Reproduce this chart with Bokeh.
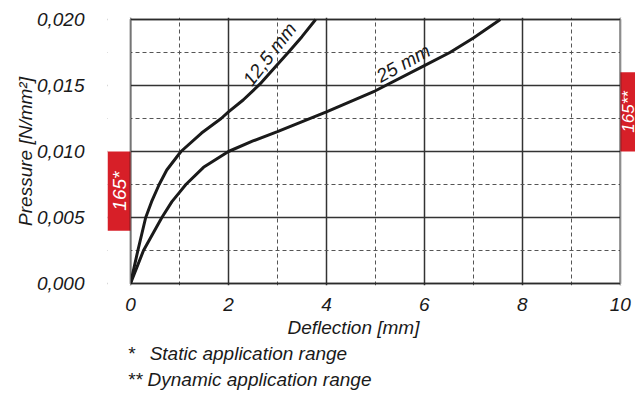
from bokeh.plotting import figure
from bokeh.models import Range1d, FixedTicker, CustomJSTickFormatter, Label, BoxAnnotation, Title
from bokeh.embed import file_html
from bokeh.resources import INLINE

FONT = "Liberation Sans"
RED = "#d71f28"
INK = "#1a1a1a"

# ---- data ----
x_ticks = [0, 2, 4, 6, 8, 10]
x_minor = [1, 3, 5, 7, 9]
y_ticks = [0.000, 0.005, 0.010, 0.015, 0.020]
y_minor = [0.0025, 0.0075, 0.0125, 0.0175]

curve_125_x = [0, 0.15, 0.31, 0.43, 0.585, 0.74, 1.03, 1.45, 1.85, 2.0, 2.3, 2.64, 3.0, 3.22, 3.5, 3.78]
curve_125_y = [0, 0.0025, 0.0050, 0.0062, 0.0075, 0.0086, 0.0100, 0.0114, 0.0125, 0.0130, 0.0139, 0.0151, 0.0166, 0.0175, 0.0187, 0.0200]

curve_25_x = [0, 0.265, 0.64, 0.845, 1.0, 1.13, 1.49, 2.0, 2.5, 3.0, 4.0, 5.0, 6.0, 6.52, 7.0, 7.55]
curve_25_y = [0, 0.0025, 0.0050, 0.0062, 0.0069, 0.0075, 0.0088, 0.0100, 0.0108, 0.0115, 0.0130, 0.0146, 0.0165, 0.0175, 0.0186, 0.0200]

curve_names = ["12,5 mm", "25 mm"]

static_range = (0.004, 0.010)    # 165*
dynamic_range = (0.010, 0.016)   # 165**
range_names = ["165*", "165**"]

x_title = "Deflection [mm]"
y_title = "Pressure [N/mm²]"
footnotes = ["*\u2002\u00a0Static application range", "**\u00a0Dynamic application range"]

# ---- figure ----
X0, X1 = 0, 10
Y0, Y1 = 0.0, 0.020
PAD = 2 / 13200.0
p = figure(width=635, height=394, output_backend="svg", toolbar_location=None,
           x_range=Range1d(-0.47, 10.31), y_range=Range1d(Y0 - PAD, Y1 + PAD),
           min_border_left=107, min_border_right=0, min_border_top=17, min_border_bottom=109)
p.background_fill_color = "white"
p.border_fill_color = "white"
p.outline_line_color = None

xt = FixedTicker(ticks=x_ticks, minor_ticks=x_minor)
yt = FixedTicker(ticks=y_ticks, minor_ticks=y_minor)
p.xaxis.ticker = xt
p.yaxis.ticker = yt
p.xgrid.ticker = xt
p.ygrid.ticker = yt
for g in (p.xgrid, p.ygrid):
    g.grid_line_color = "#333333"
    g.grid_line_width = 1.5
    g.minor_grid_line_color = "#555555"
    g.minor_grid_line_width = 1
    g.minor_grid_line_dash = "4 3"

p.yaxis.formatter = CustomJSTickFormatter(code="return tick.toFixed(3).replace('.', ',');")

for ax in (p.xaxis, p.yaxis):
    ax.axis_line_color = None
    ax.major_tick_line_color = None
    ax.minor_tick_line_color = None
    ax.major_label_text_font = FONT
    ax.major_label_text_font_style = "italic"
    ax.major_label_text_font_size = "19px"
    ax.major_label_text_color = INK
    ax.axis_label_text_font = FONT
    ax.axis_label_text_font_style = "italic"
    ax.axis_label_text_font_size = "19px"
    ax.axis_label_text_color = INK

p.xaxis.major_label_standoff = 6
p.yaxis.major_label_standoff = 17
p.yaxis.axis_label = y_title
p.yaxis.axis_label_standoff = -2

# white covers outside the chart area (keep grid lines inside 0..10)
p.add_layout(BoxAnnotation(left=-0.47, right=X0, fill_color="white", fill_alpha=1, line_color=None))
p.add_layout(BoxAnnotation(left=X1, right=10.31, fill_color="white", fill_alpha=1, line_color=None))

# curves
p.line(curve_125_x, curve_125_y, line_color=INK, line_width=3, line_join="round")
p.line(curve_25_x, curve_25_y, line_color=INK, line_width=3, line_join="round")

def lab(x, y, text, size="19px", angle=0, align="center", baseline="middle", color=INK):
    p.add_layout(Label(x=x, y=y, text=text, text_font=FONT, text_font_style="italic",
                       text_font_size=size, text_color=color, angle=angle, angle_units="deg",
                       text_align=align, text_baseline=baseline))

lab(2.84, 0.01737, curve_names[0], size="19px", angle=52)
lab(5.57, 0.01668, curve_names[1], size="19px", angle=29)

# red range boxes
p.add_layout(BoxAnnotation(left=-0.47, right=X0, bottom=static_range[0], top=static_range[1],
                           fill_color=RED, fill_alpha=1, line_color=None))
p.add_layout(BoxAnnotation(left=X1, right=10.31, bottom=dynamic_range[0], top=dynamic_range[1],
                           fill_color=RED, fill_alpha=1, line_color=None))
lab(-0.235, (static_range[0] + static_range[1]) / 2, range_names[0], size="19px", angle=90, color="white")
lab(10.16, (dynamic_range[0] + dynamic_range[1]) / 2, range_names[1], size="17px", angle=90, color="white")

# chart border
p.add_layout(BoxAnnotation(left=X0, right=X1, bottom=Y0, top=Y1, fill_alpha=0,
                           line_color=INK, line_width=2.5, level="overlay"))

# x axis title and footnotes below
def below(text, offset, standoff):
    p.add_layout(Title(text=text, align="left", offset=offset, standoff=standoff,
                       text_font=FONT, text_font_style="italic", text_font_size="19px",
                       text_color=INK), "below")

below(x_title, 180, 2)
below(footnotes[0], 20, 4)
below(footnotes[1], 20, 2)

open("out.html", "w").write(file_html(p, INLINE))
